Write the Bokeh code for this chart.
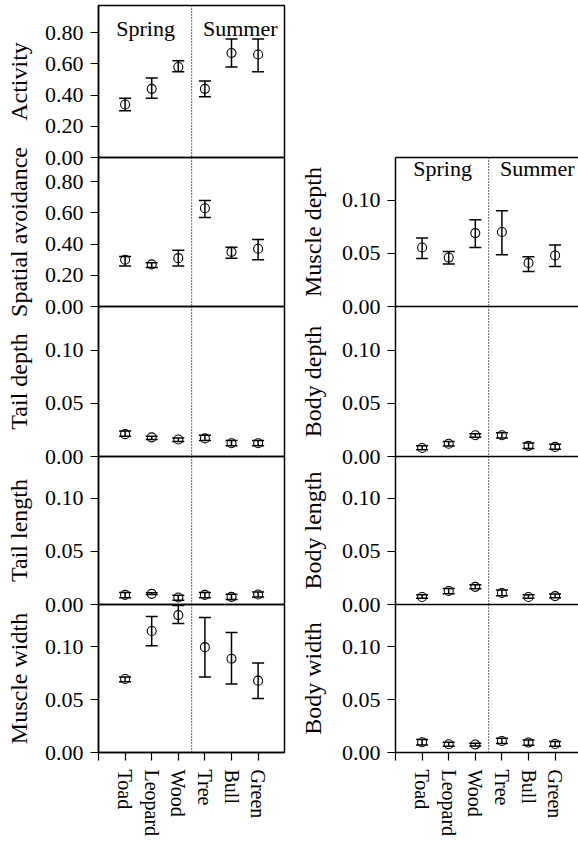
from bokeh.plotting import figure
from bokeh.models import (FixedTicker, NumeralTickFormatter, Whisker, TeeHead, Span,
                          Label, LinearAxis, ColumnDataSource, Range1d)
from bokeh.layouts import column, row
from bokeh.embed import file_html
from bokeh.resources import INLINE

# ---------------- data ----------------
species = ["Toad", "Leopard", "Wood", "Tree", "Bull", "Green"]
season_names = ["Spring", "Summer"]

activity_mean = [0.34, 0.44, 0.58, 0.44, 0.67, 0.66]
activity_lo = [0.30, 0.38, 0.55, 0.39, 0.58, 0.55]
activity_hi = [0.38, 0.51, 0.62, 0.49, 0.76, 0.76]

spatial_mean = [0.30, 0.27, 0.31, 0.63, 0.35, 0.37]
spatial_lo = [0.26, 0.25, 0.26, 0.57, 0.31, 0.30]
spatial_hi = [0.32, 0.28, 0.36, 0.68, 0.38, 0.43]

taildepth_mean = [0.021, 0.018, 0.016, 0.017, 0.0125, 0.0125]
taildepth_lo = [0.019, 0.016, 0.014, 0.015, 0.010, 0.010]
taildepth_hi = [0.024, 0.019, 0.0175, 0.020, 0.015, 0.015]

taillength_mean = [0.009, 0.010, 0.0066, 0.009, 0.0072, 0.0094]
taillength_lo = [0.0063, 0.0095, 0.0041, 0.0063, 0.0047, 0.007]
taillength_hi = [0.0113, 0.011, 0.0088, 0.0113, 0.0097, 0.0118]

musclewidth_mean = [0.0695, 0.115, 0.130, 0.0997, 0.0887, 0.068]
musclewidth_lo = [0.067, 0.101, 0.122, 0.0714, 0.0648, 0.051]
musclewidth_hi = [0.0714, 0.1286, 0.139, 0.1277, 0.1135, 0.0846]

muscledepth_mean = [0.0555, 0.046, 0.069, 0.070, 0.041, 0.048]
muscledepth_lo = [0.045, 0.040, 0.0555, 0.0486, 0.033, 0.0376]
muscledepth_hi = [0.0643, 0.0517, 0.0815, 0.090, 0.0467, 0.0577]

bodydepth_mean = [0.008, 0.012, 0.020, 0.020, 0.010, 0.009]
bodydepth_lo = [0.0063, 0.0098, 0.018, 0.0173, 0.0076, 0.0068]
bodydepth_hi = [0.0101, 0.0142, 0.0214, 0.0224, 0.0126, 0.0116]

bodylength_mean = [0.007, 0.0127, 0.0166, 0.0108, 0.007, 0.0079]
bodylength_lo = [0.0058, 0.0102, 0.0147, 0.0083, 0.0058, 0.0063]
bodylength_hi = [0.0092, 0.015, 0.0185, 0.0137, 0.0092, 0.0098]

bodywidth_mean = [0.0097, 0.0078, 0.0075, 0.0109, 0.0094, 0.0081]
bodywidth_lo = [0.0072, 0.0059, 0.0062, 0.0084, 0.0069, 0.0059]
bodywidth_hi = [0.0122, 0.0097, 0.0088, 0.0134, 0.0119, 0.0103]

ticks_prop = [0.0, 0.2, 0.4, 0.6, 0.8]
ticks_small = [0.0, 0.05, 0.10]

left_panels = [
    ("Activity", activity_mean, activity_lo, activity_hi, ticks_prop),
    ("Spatial avoidance", spatial_mean, spatial_lo, spatial_hi, ticks_prop),
    ("Tail depth", taildepth_mean, taildepth_lo, taildepth_hi, ticks_small),
    ("Tail length", taillength_mean, taillength_lo, taillength_hi, ticks_small),
    ("Muscle width", musclewidth_mean, musclewidth_lo, musclewidth_hi, ticks_small),
]
right_panels = [
    ("Muscle depth", muscledepth_mean, muscledepth_lo, muscledepth_hi, ticks_small),
    ("Body depth", bodydepth_mean, bodydepth_lo, bodydepth_hi, ticks_small),
    ("Body length", bodylength_mean, bodylength_lo, bodylength_hi, ticks_small),
    ("Body width", bodywidth_mean, bodywidth_lo, bodywidth_hi, ticks_small),
]

# ---------------- layout / style ----------------
FONT = "Liberation Serif"
LEFT_FRAMES = [152, 149, 150, 148, 149]
RIGHT_FRAMES = [149, 150, 148, 149]
T = 14          # overlap border between stacked panels
BOTTOM = 86     # room for rotated species names
LW = 1.5
X_PX = 26.6     # pixels per category step


def make_panel(spec, frame_h, side, first, last):
    label, mean, lo, hi, yticks = spec
    px_per_unit = 156.0 if yticks[-1] > 0.5 else 1064.0
    ymax = frame_h / px_per_unit
    if side == "left":
        width, bl, br = 295, 98, 11
        top = 5 if first else T
        stand = 10
    else:
        width, bl, br = 283, 100, 0
        top = 157 if first else T
        stand = 13
    xend = (width - bl - br) / X_PX
    bottom = BOTTOM if last else T
    height = top + frame_h + bottom

    p = figure(width=width, height=height, output_backend="svg", toolbar_location=None,
               x_range=Range1d(0, xend), y_range=Range1d(0, ymax),
               min_border_left=bl, min_border_right=br,
               min_border_top=top, min_border_bottom=bottom,
               background_fill_color=None, border_fill_color=None)
    p.xgrid.visible = False
    p.ygrid.visible = False
    if side == "left":
        p.outline_line_color = "black"
        p.outline_line_width = LW
    else:
        p.outline_line_color = None

    ya = p.yaxis[0]
    ya.ticker = FixedTicker(ticks=yticks)
    ya.formatter = NumeralTickFormatter(format="0.00")
    ya.axis_label = label
    ya.axis_label_text_font = FONT
    ya.axis_label_text_font_size = "24px"
    ya.axis_label_text_font_style = "normal"
    ya.axis_label_text_color = "black"
    ya.axis_label_standoff = stand
    ya.major_label_text_font = FONT
    ya.major_label_text_font_size = "22px"
    ya.major_label_text_color = "black"
    ya.major_label_standoff = 7
    ya.major_tick_out = 8
    ya.major_tick_in = 0
    ya.minor_tick_line_color = None
    ya.major_tick_line_color = "black"
    ya.major_tick_line_width = 1.2
    ya.axis_line_width = LW
    ya.axis_line_color = "black"

    xa = p.xaxis[0]
    if last:
        xa.ticker = FixedTicker(ticks=list(range(0, 8)))
        overrides = {0: "", 7: ""}
        for i, s in enumerate(species):
            overrides[i + 1] = s
        xa.major_label_overrides = overrides
        xa.major_label_orientation = "vertical"
        xa.major_label_text_font = FONT
        xa.major_label_text_font_size = "20px"
        xa.major_label_text_color = "black"
        xa.major_label_standoff = 9
        xa.major_tick_out = 8
        xa.major_tick_in = 0
        xa.major_tick_line_width = 1.2
        xa.minor_tick_line_color = None
        xa.axis_line_width = LW
    elif side == "right":
        xa.ticker = FixedTicker(ticks=[])
        xa.major_label_text_font_size = "0px"
        xa.minor_tick_line_color = None
        xa.axis_line_width = LW
    else:
        xa.visible = False

    if side == "right" and first:
        top_axis = LinearAxis(ticker=FixedTicker(ticks=[]), axis_line_width=LW,
                              major_label_text_font_size="0px",
                              minor_tick_line_color=None)
        p.add_layout(top_axis, "above")

    xs = list(range(1, len(species) + 1))
    src = ColumnDataSource(dict(x=xs, mean=mean, lo=lo, hi=hi))
    p.add_layout(Whisker(source=src, base="x", upper="hi", lower="lo", dimension="height",
                         line_color="black", line_width=LW,
                         upper_head=TeeHead(size=12, line_width=LW, line_color="black"),
                         lower_head=TeeHead(size=12, line_width=LW, line_color="black")))
    p.scatter("x", "mean", source=src, marker="circle", size=9,
              fill_color=None, line_color="black", line_width=1.1)

    p.add_layout(Span(location=3.5, dimension="height", line_color="black",
                      line_width=1.2, line_dash="1 2"))

    if first:
        ybase = (157 - 28) / px_per_unit if side == "left" else (306 - 168) / px_per_unit
        for sx, name in zip([1.77, 5.33], season_names):
            p.add_layout(Label(x=sx, y=ybase, text=name, text_font=FONT,
                               text_font_size="22px", text_align="center",
                               text_baseline="alphabetic", text_color="black"))
    if not first:
        p.margin = (-2 * T, 0, 0, 0)
    return p


left_figs = [make_panel(s, h, "left", i == 0, i == len(left_panels) - 1)
             for i, (s, h) in enumerate(zip(left_panels, LEFT_FRAMES))]
right_figs = [make_panel(s, h, "right", i == 0, i == len(right_panels) - 1)
              for i, (s, h) in enumerate(zip(right_panels, RIGHT_FRAMES))]

layout = row(column(*left_figs), column(*right_figs))

open("out.html", "w").write(file_html(layout, INLINE))
